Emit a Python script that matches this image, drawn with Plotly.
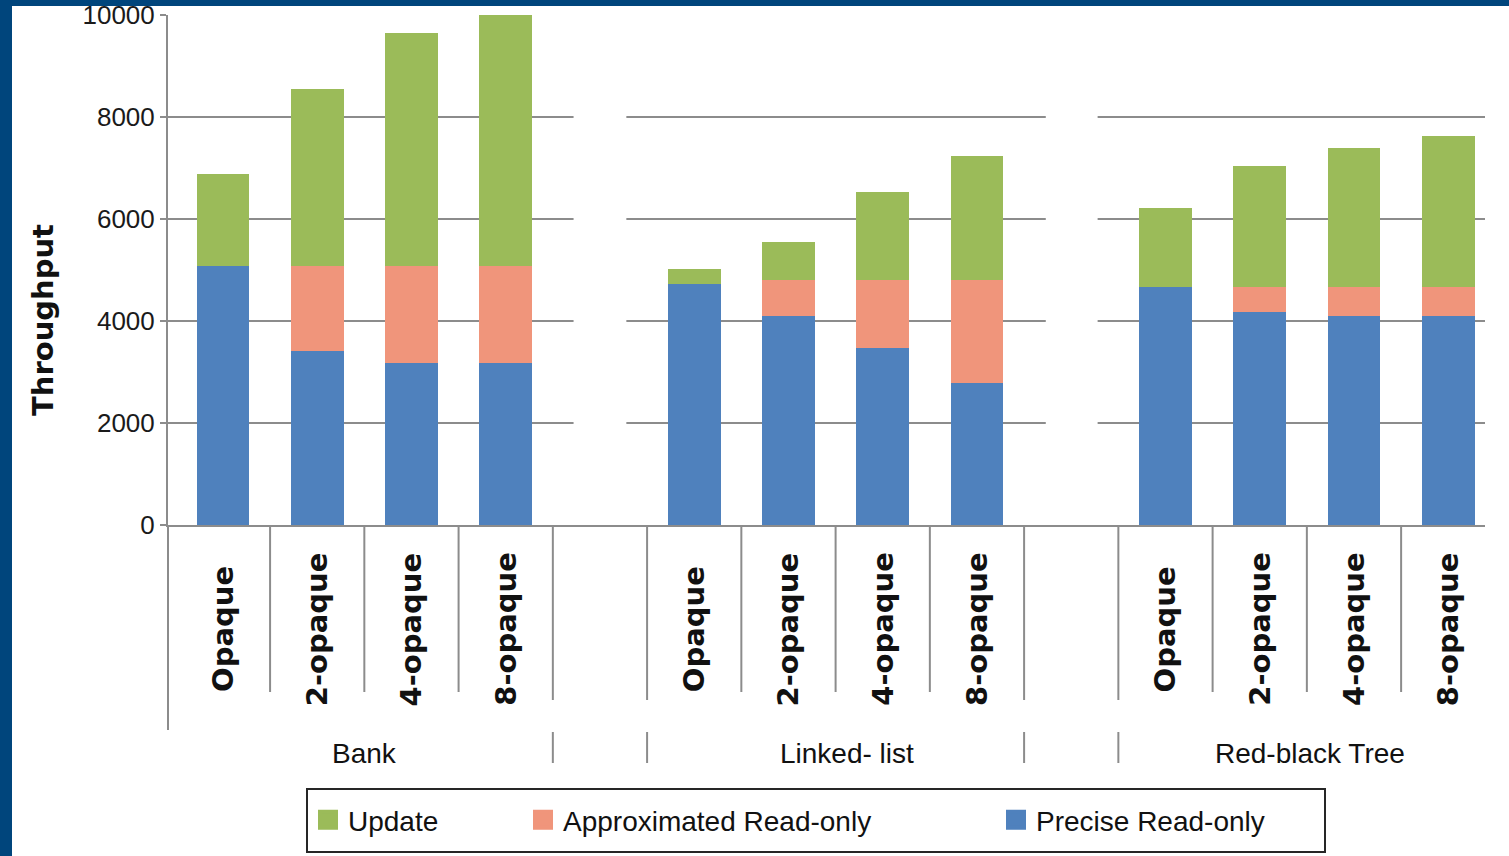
import plotly.graph_objects as go

# ---------------- data ----------------
groups = ["Bank", "Linked- list", "Red-black Tree"]
variants = ["Opaque", "2-opaque", "4-opaque", "8-opaque"]
series_names = ["Update", "Approximated Read-only", "Precise Read-only"]
precise = [5080, 3410, 3180, 3180, 4720, 4100, 3480, 2780, 4670, 4180, 4100, 4100]
approx = [0, 1670, 1900, 1900, 0, 700, 1320, 2020, 0, 490, 570, 570]
update = [1800, 3460, 4570, 4920, 300, 750, 1720, 2430, 1540, 2370, 2720, 2950]
y_ticks = [0, 2000, 4000, 6000, 8000, 10000]
y_ticktext = ["0", "2000", "4000", "6000", "8000", "10000"]
grid_vals = [2000, 4000, 6000, 8000]
y_title = "Throughput"

# ---------------- geometry helpers ----------------
W, H = 1509, 856
L, R, T, B = 168, 24, 15, 331
PW = W - L - R
PH = H - T - B


def pxx(x):
    return (x - L) / PW


def pxy(y):
    return (H - B - y) / PH


SLOT = 5  # 4 bars + 1 empty slot per group
xs = [g * SLOT + i for g in range(len(groups)) for i in range(len(variants))]
labels = [v for g in groups for v in variants]

C_UPD = "#9BBB59"
C_APP = "#F0957B"
C_PRE = "#4F81BD"
GRID = "#8C8C8C"
TXT = "#111111"
FRAME = "#00457C"

fig = go.Figure()
BW = 0.56
fig.add_trace(go.Bar(x=xs, y=precise, name=series_names[2], marker=dict(color=C_PRE, line=dict(width=0)),
                     width=BW, showlegend=False))
fig.add_trace(go.Bar(x=xs, y=approx, name=series_names[1], marker=dict(color=C_APP, line=dict(width=0)),
                     width=BW, showlegend=False))
fig.add_trace(go.Bar(x=xs, y=update, name=series_names[0], marker=dict(color=C_UPD, line=dict(width=0)),
                     width=BW, showlegend=False))

# legend entries (square swatches)
for name, col, lg in [(series_names[0], C_UPD, "legend"),
                      (series_names[1], C_APP, "legend2"),
                      (series_names[2], C_PRE, "legend3")]:
    fig.add_trace(go.Scatter(x=[None], y=[None], mode="markers", name=name, legend=lg,
                             marker=dict(symbol="square", size=16, color=col,
                                         line=dict(width=4, color=col))))

leg_common = dict(yanchor="middle", xanchor="left", bgcolor="rgba(0,0,0,0)", borderwidth=0,
                  itemsizing="trace", orientation="h",
                  font=dict(family="Liberation Sans", size=28, color=TXT))
X0, X1 = -0.583, 13.39

shapes = []
# broken horizontal gridlines
segs = [(X0, 3.72), (4.28, 8.73), (9.28, 13.40)]
for v in grid_vals:
    for a, b in segs:
        shapes.append(dict(type="line", xref="x", yref="y", x0=a, x1=b, y0=v, y1=v,
                           line=dict(color=GRID, width=2), layer="below"))
# category dividers below the axis
for g in range(len(groups)):
    for i in range(len(variants) - 1):
        k = g * SLOT + i + 0.5
        shapes.append(dict(type="line", xref="x", yref="paper", x0=k, x1=k, y0=0, y1=pxy(692),
                           line=dict(color=GRID, width=2)))
for k in [3.5, 4.5, 8.5, 9.5]:
    shapes.append(dict(type="line", xref="x", yref="paper", x0=k, x1=k, y0=0, y1=pxy(700),
                       line=dict(color=GRID, width=2)))
    shapes.append(dict(type="line", xref="x", yref="paper", x0=k, x1=k, y0=pxy(732), y1=pxy(763),
                       line=dict(color=GRID, width=2)))
shapes.append(dict(type="line", xref="paper", yref="paper", x0=0, x1=0, y0=0, y1=pxy(730),
                   line=dict(color=GRID, width=2)))
# legend box
shapes.append(dict(type="rect", xref="paper", yref="paper", x0=pxx(307), x1=pxx(1325),
                   y0=pxy(852), y1=pxy(789), line=dict(color="#262626", width=2)))
# dark blue frame (top and left)
shapes.append(dict(type="rect", xref="paper", yref="paper", x0=-0.3, x1=1.2, y0=pxy(6), y1=pxy(-20),
                   fillcolor=FRAME, line=dict(width=0), layer="above"))
shapes.append(dict(type="rect", xref="paper", yref="paper", x0=pxx(-20), x1=pxx(12), y0=pxy(900), y1=pxy(-20),
                   fillcolor=FRAME, line=dict(width=0), layer="above"))

annotations = []
for k, lab in zip(xs, labels):
    annotations.append(dict(x=k, y=pxy(629), xref="x", yref="paper", text=lab, textangle=-90,
                            showarrow=False, xanchor="center", yanchor="middle",
                            font=dict(family="DejaVu Sans", size=29, color=TXT, weight="bold")))
group_x = [1.5, 6.62, 11.53]
for gx, gl in zip(group_x, groups):
    annotations.append(dict(x=gx, y=pxy(753), xref="x", yref="paper", text=gl, showarrow=False,
                            xanchor="center", yanchor="middle",
                            font=dict(family="Liberation Sans", size=28, color=TXT)))
# y-axis title
annotations.append(dict(x=pxx(43), y=pxy(320), xref="paper", yref="paper", text=y_title, textangle=-90,
                        showarrow=False, xanchor="center", yanchor="middle",
                        font=dict(family="DejaVu Sans", size=29, color=TXT, weight="bold")))

fig.update_layout(
    width=W, height=H,
    margin=dict(l=L, r=R, t=T, b=B, autoexpand=False),
    paper_bgcolor="white", plot_bgcolor="white",
    barmode="stack", bargap=0,
    showlegend=True,
    legend=dict(x=pxx(308), y=pxy(820), **leg_common),
    legend2=dict(x=pxx(523), y=pxy(820), **leg_common),
    legend3=dict(x=pxx(996), y=pxy(820), **leg_common),
    xaxis=dict(range=[X0, X1], showticklabels=False, showgrid=False, zeroline=False,
               showline=True, linecolor=GRID, linewidth=2, ticks="", fixedrange=True),
    yaxis=dict(range=[0, 10000], tickvals=y_ticks, ticktext=y_ticktext, showgrid=False, zeroline=False,
               showline=True, linecolor=GRID, linewidth=2, ticks="outside", ticklen=6,
               tickcolor=GRID, tickwidth=2,
               tickfont=dict(family="Liberation Sans", size=26, color="#1A1A1A")),
    shapes=shapes,
    annotations=annotations,
)

fig.write_html("out.html")
